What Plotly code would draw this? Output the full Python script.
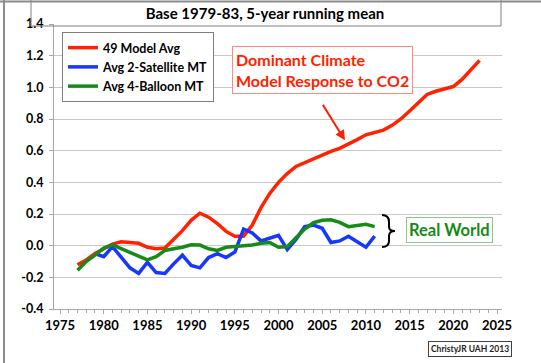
import plotly.graph_objects as go

# ---------------- data ----------------
model_years = list(range(1977, 2024))
model_avg = [-0.12, -0.09, -0.05, -0.02, 0.01, 0.025, 0.02, 0.015, -0.01, -0.02,
             -0.015, 0.04, 0.095, 0.16, 0.205, 0.18, 0.14, 0.09, 0.06, 0.06,
             0.13, 0.24, 0.33, 0.40, 0.455, 0.50, 0.525, 0.55, 0.575, 0.595,
             0.615, 0.64, 0.67, 0.70, 0.715, 0.73, 0.76, 0.80, 0.85, 0.905,
             0.955, 0.975, 0.99, 1.005, 1.05, 1.11, 1.17]

sat_years = list(range(1979, 2012))
sat_avg = [-0.05, -0.07, -0.006, -0.07, -0.14, -0.175, -0.105, -0.17, -0.175, -0.115,
           -0.06, -0.125, -0.14, -0.075, -0.05, -0.075, -0.04, 0.105, 0.08, 0.03,
           0.05, 0.065, -0.025, 0.04, 0.12, 0.13, 0.11, 0.02, 0.03, 0.06,
           0.025, -0.01, 0.06]

bal_years = list(range(1977, 2012))
bal_avg = [-0.155, -0.10, -0.06, -0.015, 0.005, -0.02, -0.04, -0.065, -0.09, -0.07,
           -0.03, -0.02, -0.01, 0.006, 0.004, -0.02, -0.03, -0.01, -0.006, -0.004,
           0.004, 0.015, 0.02, -0.01, -0.006, 0.05, 0.105, 0.145, 0.16, 0.163,
           0.147, 0.12, 0.13, 0.135, 0.12]

series_names = ["49 Model Avg", "Avg 2-Satellite MT", "Avg 4-Balloon MT"]
series_colors = ["#FF2200", "#1736FF", "#178A17"]

x_ticks = [1975, 1980, 1985, 1990, 1995, 2000, 2005, 2010, 2015, 2020, 2025]
y_ticks = [-0.4, -0.2, 0.0, 0.2, 0.4, 0.6, 0.8, 1.0, 1.2, 1.4]

title_text = "Base 1979-83, 5-year running mean"
callout_text = "Dominant Climate<br>Model Response to CO2"
real_text = "Real World"
credit_text = "ChristyJR UAH 2013"

# ---------------- layout helpers ----------------
W, H = 541, 363
L, R, T, B = 54, 502, 24, 309   # plot area in pixels


def px(x):
    return (x - L) / (R - L)


def py(y):
    return (B - y) / (B - T)


FONT = "Lato, 'Open Sans', sans-serif"

fig = go.Figure()
for i, (xs, ys) in enumerate([(model_years, model_avg), (sat_years, sat_avg), (bal_years, bal_avg)]):
    fig.add_trace(go.Scatter(
        x=xs, y=ys, mode="lines", name=series_names[i], legendgroup=f"g{i}",
        line=dict(color=series_colors[i], width=3.5),
    ))

fig.update_layout(
    width=W, height=H,
    margin=dict(l=L, r=W - R, t=T, b=H - B, pad=0),
    paper_bgcolor="white", plot_bgcolor="white",
    font=dict(family=FONT, color="black"),
    title=dict(text=title_text, x=265 / W, xref="container", xanchor="center",
               y=1 - 14 / H, yref="container", yanchor="middle",
               font=dict(size=15, weight="bold", color="black", family=FONT)),
    showlegend=True,
    legend=dict(x=px(62), y=py(32), xanchor="left", yanchor="top",
                bgcolor="white", bordercolor="#7F7F7F", borderwidth=1,
                font=dict(size=12.5, weight="bold", color="black", family=FONT),
                itemwidth=30, tracegroupgap=10, traceorder="normal"),
)

fig.update_xaxes(
    range=[1974.31, 2025.57], tickmode="array", tickvals=x_ticks,
    ticktext=[str(v) for v in x_ticks],
    showgrid=False, zeroline=False, showline=True, linecolor="#A6A6A6", linewidth=1,
    ticks="outside", ticklen=4, tickcolor="#A6A6A6",
    minor=dict(dtick=1, tick0=1975, ticks="outside", ticklen=3, tickcolor="#A6A6A6", showgrid=False),
    tickfont=dict(size=13, weight="bold", color="black", family=FONT),
)
fig.update_yaxes(
    range=[-0.4, 1.4], tickmode="array", tickvals=y_ticks,
    ticktext=[f"{v:.1f}" for v in y_ticks],
    showgrid=True, gridcolor="#C8C8C8", gridwidth=1, zeroline=False,
    showline=True, linecolor="#A6A6A6", linewidth=1,
    ticks="outside", ticklen=4, tickcolor="#A6A6A6",
    tickfont=dict(size=12.5, weight="bold", color="black", family=FONT),
    ticklabelstandoff=3,
)

shapes = []
# title box
shapes.append(dict(type="rect", xref="paper", yref="paper",
                   x0=px(31), x1=px(501), y0=py(26), y1=py(-2),
                   line=dict(color="#808080", width=1), fillcolor="rgba(0,0,0,0)"))
# outer window border (left and top)
shapes.append(dict(type="line", xref="paper", yref="paper",
                   x0=px(4), x1=px(4), y0=py(H + 2), y1=py(-2),
                   line=dict(color="#8C8C8C", width=2)))
shapes.append(dict(type="line", xref="paper", yref="paper",
                   x0=px(0), x1=px(W), y0=py(1.5), y1=py(1.5),
                   line=dict(color="#8C8C8C", width=2)))

# curly bracket next to "Real World"
pts = [(382, 215), (389, 215), (389, 222), (389, 227), (389, 231), (395, 231),
       (389, 231), (389, 236), (389, 241), (389, 247), (382, 247)]


def P(p):
    return f"{px(p[0]):.5f},{py(p[1]):.5f}"


path = (f"M{P(pts[0])} Q{P(pts[1])} {P(pts[2])} L{P(pts[3])} Q{P(pts[4])} {P(pts[5])} "
        f"Q{P(pts[6])} {P(pts[7])} L{P(pts[8])} Q{P(pts[9])} {P(pts[10])}")
shapes.append(dict(type="path", xref="paper", yref="paper", path=path,
                   line=dict(color="black", width=2)))
fig.update_layout(shapes=shapes)

# callout box
fig.add_annotation(xref="paper", yref="paper", x=px(322), y=py(70.5),
                   xanchor="center", yanchor="middle", text=callout_text, showarrow=False,
                   align="left", font=dict(size=16, weight="bold", color="#FF2200", family=FONT),
                   bordercolor="#FF8A80", borderwidth=1, borderpad=3, bgcolor="white")
# callout arrow
fig.add_annotation(x=2007.6, y=0.665, xref="x", yref="y", text="", showarrow=True,
                   ax=-23, ay=-37, arrowcolor="#FF2200", arrowwidth=2, arrowhead=2, arrowsize=1)
# Real World box
fig.add_annotation(xref="paper", yref="paper", x=px(449.5), y=py(229.5),
                   xanchor="center", yanchor="middle", text=real_text, showarrow=False,
                   font=dict(size=16.5, weight="bold", color="#178A17", family=FONT),
                   bordercolor="#8CC68C", borderwidth=1, borderpad=2, bgcolor="white")
# credit box
fig.add_annotation(xref="paper", yref="paper", x=px(469.5), y=py(348.5),
                   xanchor="center", yanchor="middle", text=credit_text, showarrow=False,
                   font=dict(size=8.5, weight="bold", color="#222222", family=FONT),
                   bordercolor="#404040", borderwidth=1, borderpad=2, bgcolor="white")

fig.write_html("out.html", config={"displayModeBar": False},
               post_script="document.body.style.margin='0';")
